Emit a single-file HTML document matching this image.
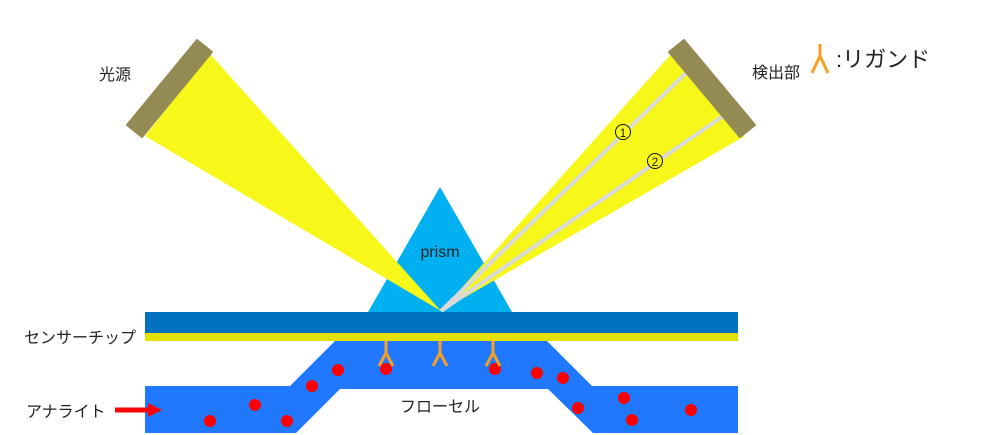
<!DOCTYPE html>
<html><head><meta charset="utf-8"><style>
html,body{margin:0;padding:0;background:#fff;}
svg{display:block;}
text{font-family:"Liberation Sans","Noto Sans CJK JP",sans-serif;fill:#222;}
</style></head><body>
<svg width="998" height="435" viewBox="0 0 998 435" xmlns="http://www.w3.org/2000/svg">
<polygon points="440,187 368,312 512,312" fill="#00b0f0"/>
<text x="440" y="257" font-size="16" text-anchor="middle" fill="#111">prism</text>
<polygon points="441,311 210,54 145,136" fill="#f7f71a"/>
<polygon points="441,311 673,52 745,136" fill="#f7f71a"/>
<line x1="441" y1="311" x2="687" y2="72" stroke="#d9d9d9" stroke-width="4"/>
<line x1="441" y1="311" x2="723" y2="116" stroke="#d9d9d9" stroke-width="4"/>
<circle cx="623" cy="132" r="7.5" fill="#f7f71a" stroke="#111" stroke-width="1"/>
<text x="623" y="137" font-size="12" text-anchor="middle" fill="#111">1</text>
<circle cx="655" cy="161" r="7.5" fill="#f7f71a" stroke="#111" stroke-width="1"/>
<text x="655" y="166" font-size="12" text-anchor="middle" fill="#111">2</text>
<polygon points="197,40 212,52 142,137 127,125" fill="#948a54" stroke="#948a54" stroke-width="2" stroke-linejoin="round"/>
<polygon points="684,40 669,52 740,137 755,125" fill="#948a54" stroke="#948a54" stroke-width="2" stroke-linejoin="round"/>
<rect x="145" y="312" width="593" height="21" fill="#0070c0"/>
<rect x="145" y="333" width="593" height="8" fill="#e3e000"/>
<polygon points="145,386 290,386 335,341 547,341 592,386 738,386 738,433 593,433 548,389 340,389 296,433 145,433" fill="#1f78ff"/>
<g fill="#f00">
<circle cx="210" cy="421" r="6"/><circle cx="255" cy="405" r="6"/><circle cx="287" cy="421" r="6"/>
<circle cx="312" cy="386" r="6"/><circle cx="338" cy="370" r="6"/><circle cx="386" cy="369" r="6"/>
<circle cx="495" cy="369" r="6"/><circle cx="537" cy="373" r="6"/><circle cx="563" cy="378" r="6"/>
<circle cx="578" cy="408" r="6"/><circle cx="624" cy="398" r="6"/><circle cx="632" cy="420" r="6"/>
<circle cx="691" cy="410" r="6"/>
</g>
<g stroke="#f5a020" stroke-width="3" fill="none">
<path d="M386,341 V353 L379,366 M386,353 L393,366"/>
<path d="M440,341 V353 L433,366 M440,353 L447,366"/>
<path d="M493,341 V353 L486,366 M493,353 L500,366"/>
<path d="M820,44 V56 L812,73 M820,56 L828,73"/>
</g>
<text x="836" y="67" font-size="22">:リガンド</text>
<text x="115" y="80" font-size="16" text-anchor="middle">光源</text>
<text x="752" y="78" font-size="16">検出部</text>
<text x="136" y="343" font-size="16" text-anchor="end">センサーチップ</text>
<text x="26" y="417" font-size="16">アナライト</text>
<text x="440" y="412" font-size="16" text-anchor="middle">フローセル</text>
<line x1="115" y1="410" x2="150" y2="410" stroke="#f00" stroke-width="5"/>
<polygon points="148,403 162,410 148,417" fill="#f00"/>
</svg>
</body></html>
